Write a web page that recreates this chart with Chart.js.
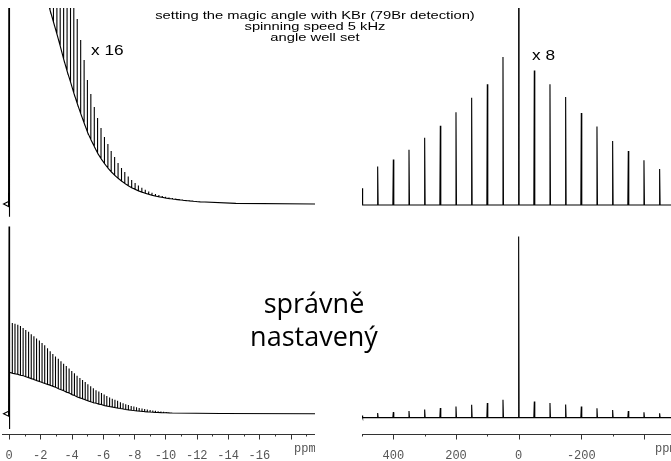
<!DOCTYPE html>
<html>
<head>
    <title>Magic angle setting with KBr</title>
    <script src="https://cdn.jsdelivr.net/npm/chart.js"></script>
    <style>
        body {
            margin: 0;
            background: #fff;
            width: 671px;
            height: 461px;
            overflow: hidden;
            position: relative;
            font-family: "Liberation Sans", Arial, sans-serif;
        }
        canvas { position: absolute; }
        .label { position: absolute; white-space: nowrap; color: #000; }
        #gain16, #gain8 {
            font-size: 15px;
            line-height: 15px;
            transform: scaleX(1.15);
            transform-origin: left top;
        }
        #gain16 { left: 91px; top: 42px; }
        #gain8 { left: 532px; top: 47px; }
        #title {
            position: absolute;
            left: 122px; top: 0;
            width: 386px; height: 44px;
            background: #fff;
        }
        #title div {
            padding-top: 10px;
            font-size: 11px;
            line-height: 11px;
            text-align: center;
            transform: scaleX(1.34);
        }
        #note {
            left: 0; top: 286px; width: 628px;
            text-align: center;
            font-family: "Open Sans", sans-serif;
            font-size: 27px;
            line-height: 33px;
        }
    </style>
</head>
<body>
    <canvas id="fidTop" width="313" height="212" style="left:2px; top:8px"></canvas>
    <canvas id="specTop" width="320" height="212" style="left:362px; top:8px"></canvas>
    <canvas id="fidBottom" width="313" height="248" style="left:2px; top:222px"></canvas>
    <canvas id="specBottom" width="320" height="248" style="left:362px; top:222px"></canvas>

    <div class="label" id="gain16">x 16</div>
    <div class="label" id="gain8">x 8</div>
    <div id="title"><div>setting the magic angle with KBr (79Br detection)<br>spinning speed 5 kHz<br>angle well set</div></div>
    <div class="label" id="note">správně<br>nastavený</div>

    <script>
        // ---- right panels: 79Br spectrum, centre line + spinning sidebands ----
        const sidebandPpm = [500, 450, 400, 350, 300, 250, 200, 150, 100, 50, 0,
                             -50, -100, -150, -200, -250, -300, -350, -400, -450];
        // intensities in lower-panel units, upper panel is the same trace x 8
        const sidebandHeight = [2.1, 4.8, 5.7, 6.9, 8.4, 9.9, 11.6, 13.4, 15.1, 18.5, 188,
                                16.8, 15.1, 13.5, 11.5, 9.8, 8.0, 6.75, 5.6, 4.5];
        const topGainRight = 8;

        // ---- left panels: time-domain trace with rotor echoes ----
        const fidTopHeadPpm = [0.03, 0.35, 0.03, 0, -0.01, -0.05, -2.49];
        const fidTopHeadVal = [2.5, 0, -2.5, 400, -12.7, 600, 202];
        const fidTopEchoPpm = [-2.62, -2.84, -3.06, -3.27, -3.49, -3.71, -3.93, -4.14, -4.36, -4.58,
                               -4.80, -5.01, -5.23, -5.45, -5.66, -5.88, -6.10, -6.32, -6.53, -6.75,
                               -6.97, -7.19, -7.40, -7.62, -7.84, -8.06, -8.27, -8.49, -8.71, -8.93,
                               -9.14, -9.36, -9.58, -9.80, -10.01, -10.23, -10.45, -10.66, -10.88, -11.10,
                               -11.32, -11.53, -11.75, -11.97, -12.19];
        const fidTopEchoMax = [400, 390, 370, 350, 320, 290, 250, 220, 185, 164,
                               144, 124, 110, 97, 86, 76, 67, 60, 53, 47,
                               41, 36, 32, 27.5, 24, 21, 18.5, 16.3, 14.3, 12.6,
                               11.2, 10, 9, 8.1, 7.3, 6.6, 6, 5.5, 5, 4.5,
                               4.1, 3.7, 3.4, 3.1, 2.8];
        const fidTopEnvelope = [194, 182, 170, 158, 145, 133, 122, 111, 100.5, 90.5,
                                81, 72, 64.5, 57.5, 51, 45.5, 40.5, 36, 32.3, 28.8,
                                25.7, 23, 20.5, 18.3, 16.3, 14.7, 13.2, 11.9, 10.7, 9.7,
                                8.7, 7.9, 7.2, 6.6, 6.0, 5.4, 5.0, 4.6, 4.2, 3.8,
                                3.4, 3.1, 2.8, 2.5, 2.2];
        const fidTopTailPpm = [-14.5, -19.6];
        const fidTopTailVal = [0.6, 0];

        const fidBotHeadPpm = [0.03, 0.35, 0.03, 0, -0.01, -0.06];
        const fidBotHeadVal = [2.5, 0, -2.5, 194.3, -15.7, 43];
        const fidBotEchoPpm = [-0.21, -0.38, -0.56, -0.73, -0.90, -1.07, -1.25, -1.42, -1.59, -1.76,
                               -1.94, -2.11, -2.28, -2.46, -2.63, -2.80, -2.97, -3.15, -3.32, -3.49,
                               -3.66, -3.84, -4.01, -4.18, -4.35, -4.53, -4.70, -4.87, -5.04, -5.22,
                               -5.39, -5.56, -5.74, -5.91, -6.08, -6.25, -6.43, -6.60, -6.77, -6.94,
                               -7.12, -7.29, -7.46, -7.63, -7.81, -7.98, -8.15, -8.32, -8.50, -8.67,
                               -8.84, -9.02, -9.19, -9.36, -9.53, -9.71, -9.88, -10.05, -10.22, -10.40];
        const fidBotEchoMax = [94.3, 93.5, 92.5, 91, 89, 87, 85, 82.5, 80.5, 78,
                               76, 73.5, 71, 68, 65, 62, 59.5, 57, 54.5, 52,
                               49.5, 47, 44.5, 42, 39.5, 37, 35, 33, 30.5, 28.5,
                               26.5, 24.5, 23, 21.5, 20, 18.5, 17, 15.5, 14.5, 13.5,
                               12, 11, 10, 9, 8, 7.5, 6.8, 6.1, 5.5, 4.9,
                               4.3, 3.8, 3.4, 3.0, 2.7, 2.4, 2.1, 1.8, 1.6, 1.4];
        const fidBotEnvelope = [42, 41.5, 41, 40, 39.5, 38.5, 37.5, 36.5, 35.5, 34.5,
                                33.5, 32.5, 31.5, 30.5, 29.5, 28.5, 27.5, 26, 25, 24,
                                22.5, 21.5, 20, 19, 17.5, 16.5, 15.5, 14.5, 13.5, 12.5,
                                11.5, 11, 10, 9.5, 8.5, 8, 7.5, 7, 6.5, 6,
                                5.5, 5, 4.5, 4, 3.7, 3.4, 3.1, 2.8, 2.5, 2.2,
                                2, 1.8, 1.6, 1.5, 1.3, 1.2, 1.1, 1.0, 0.9, 0.8];
        const fidBotTailPpm = [-13.5, -19.6];
        const fidBotTailVal = [0.2, 0];

        // axis ticks / labels
        const leftTickLabels = [0, -2, -4, -6, -8, -10, -12, -14, -16];
        const rightTickLabels = [400, 200, 0, -200];

        function fidPoints(headPpm, headVal, echoPpm, echoMax, envelope, tailPpm, tailVal) {
            const pts = headPpm.map((x, i) => ({ x: x, y: headVal[i] }));
            echoPpm.forEach((x, i) => {
                pts.push({ x: x, y: envelope[i] }, { x: x, y: echoMax[i] }, { x: x, y: envelope[i] });
            });
            tailPpm.forEach((x, i) => pts.push({ x: x, y: tailVal[i] }));
            return pts;
        }

        function spectrumPoints() {
            const pts = [];
            sidebandPpm.forEach((p, i) => {
                const h = sidebandHeight[i];
                if (p >= 500) {
                    pts.push({ x: p, y: h }, { x: p - 2, y: 0 });
                } else {
                    pts.push({ x: p + 1.5, y: 0 }, { x: p, y: h }, { x: p - 1.5, y: 0 });
                }
            });
            pts.push({ x: -530, y: 0 });
            return pts;
        }

        // axis line, tick marks (long on labelled steps) and the unit
        const axisMarks = {
            id: 'axisMarks',
            afterDraw(chart, args, opts) {
                const ctx = chart.ctx, area = chart.chartArea, sc = chart.scales.x;
                const y = Math.round(area.bottom) + 0.5;
                ctx.save();
                ctx.strokeStyle = '#333';
                ctx.lineWidth = 1;
                ctx.beginPath();
                ctx.moveTo(area.left, y);
                ctx.lineTo(area.right, y);
                sc.ticks.forEach(t => {
                    const x = Math.round(sc.getPixelForValue(t.value)) + 0.5;
                    ctx.moveTo(x, y);
                    ctx.lineTo(x, y + (t.value % opts.major === 0 ? 5 : 2));
                });
                ctx.stroke();
                ctx.fillStyle = '#555';
                ctx.font = '12px "Liberation Mono", monospace';
                ctx.textBaseline = 'middle';
                ctx.fillText('ppm', opts.unitX, y + 14);
                ctx.restore();
            }
        };

        function makeChart(id, points, xRange, yRange, axis) {
            const xScale = {
                type: 'linear', reverse: true,
                min: xRange[0], max: xRange[1],
                display: !!axis,
                grid: { display: false },
                border: { display: false },
                // keep the plot edge-to-edge, labels may overhang
                afterFit: s => { s.paddingLeft = 0; s.paddingRight = 0; },
                ticks: {
                    stepSize: axis ? axis.step : 1,
                    autoSkip: false, maxRotation: 0, minRotation: 0,
                    includeBounds: false,
                    padding: 8,
                    color: '#555',
                    font: { family: '"Liberation Mono", monospace', size: 12, lineHeight: 1 },
                    callback: v => (axis && axis.labels.includes(v)) ? String(v) : ''
                }
            };
            return new Chart(document.getElementById(id), {
                type: 'scatter',
                data: {
                    datasets: [{
                        data: points,
                        showLine: true,
                        borderColor: '#000',
                        borderWidth: 1.1,
                        pointRadius: 0,
                        tension: 0
                    }]
                },
                options: {
                    responsive: false,
                    animation: false,
                    devicePixelRatio: 1,
                    layout: { padding: 0 },
                    plugins: {
                        legend: { display: false },
                        tooltip: { enabled: false },
                        axisMarks: axis ? { major: axis.major, unitX: axis.unitX } : { major: 0 }
                    },
                    scales: {
                        x: xScale,
                        y: { min: yRange[0], max: yRange[1], display: false }
                    }
                },
                plugins: axis ? [axisMarks] : []
            });
        }

        const fidTop = fidPoints(fidTopHeadPpm, fidTopHeadVal, fidTopEchoPpm, fidTopEchoMax,
                                 fidTopEnvelope, fidTopTailPpm, fidTopTailVal);
        const fidBot = fidPoints(fidBotHeadPpm, fidBotHeadVal, fidBotEchoPpm, fidBotEchoMax,
                                 fidBotEnvelope, fidBotTailPpm, fidBotTailVal);
        const spec = spectrumPoints();

        makeChart('fidTop', fidTop, [-19.56, 0.45], [-16, 196], null);
        makeChart('specTop', spec, [-521.4, 500], [-15 / topGainRight, 197 / topGainRight], null);
        makeChart('fidBottom', fidBot, [-19.56, 0.45], [-21, 199],
                  { step: 1, major: 2, labels: leftTickLabels, unitX: 292 });
        makeChart('specBottom', spec, [-521.4, 500], [-17, 203],
                  { step: 100, major: 200, labels: rightTickLabels, unitX: 293 });
    </script>
</body>
</html>
